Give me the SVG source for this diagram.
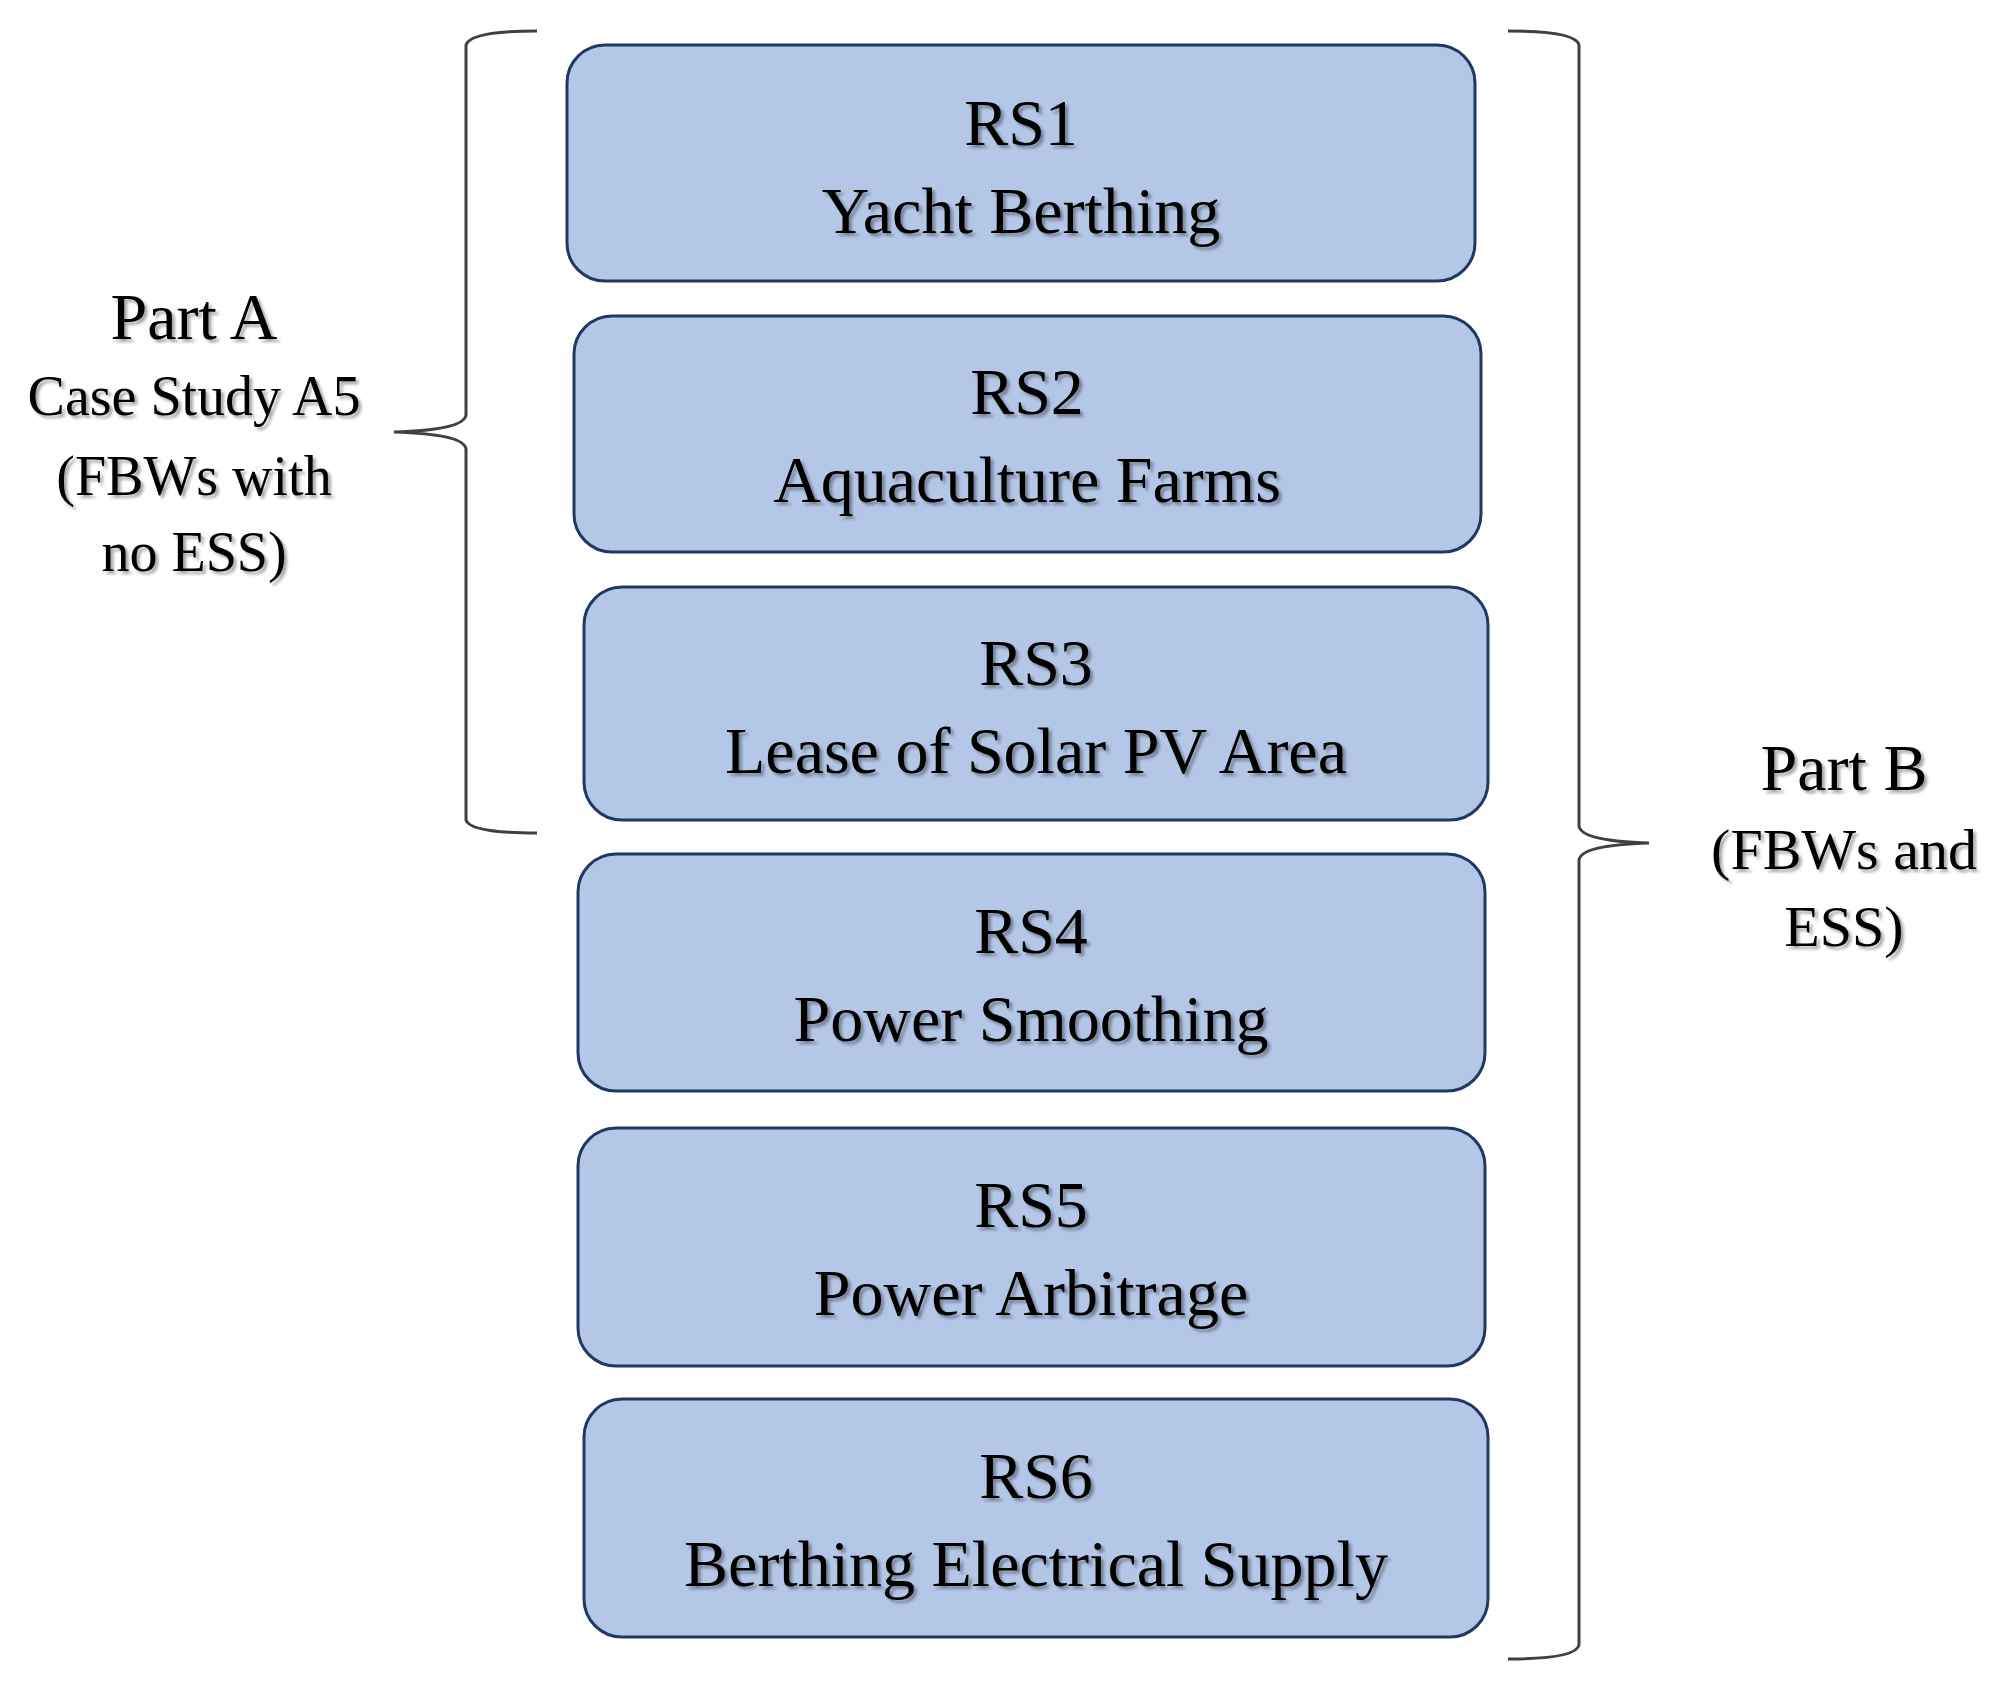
<svg xmlns="http://www.w3.org/2000/svg" width="2004" height="1684" viewBox="0 0 2004 1684">
<style>
.box{fill:#b4c7e7;stroke:#203864;stroke-width:3}
.t{font-family:"Liberation Serif","Times New Roman",serif;fill:#000;text-anchor:middle;filter:url(#sh)}
.br{fill:none;stroke:#404040;stroke-width:3}
</style>
<defs><filter id="sh" x="-10%" y="-20%" width="120%" height="140%"><feDropShadow dx="3" dy="3" stdDeviation="1.5" flood-color="#000" flood-opacity="0.35"/></filter></defs>
<rect width="2004" height="1684" fill="#fff"/>
<g id="rs1"><rect class="box" x="567" y="45" width="908" height="236" rx="38"/><text class="t" x="1021" y="145" font-size="66">RS1</text><text class="t" x="1021" y="233" font-size="66">Yacht Berthing</text></g>
<g id="rs2"><rect class="box" x="574" y="316" width="907" height="236" rx="38"/><text class="t" x="1027" y="414" font-size="66">RS2</text><text class="t" x="1027" y="502" font-size="66">Aquaculture Farms</text></g>
<g id="rs3"><rect class="box" x="584" y="587" width="904" height="233" rx="38"/><text class="t" x="1036" y="685" font-size="66">RS3</text><text class="t" x="1036" y="773" font-size="66">Lease of Solar PV Area</text></g>
<g id="rs4"><rect class="box" x="578" y="854" width="907" height="237" rx="38"/><text class="t" x="1031" y="953" font-size="66">RS4</text><text class="t" x="1031" y="1041" font-size="66">Power Smoothing</text></g>
<g id="rs5"><rect class="box" x="578" y="1128" width="907" height="238" rx="38"/><text class="t" x="1031" y="1227" font-size="66">RS5</text><text class="t" x="1031" y="1315" font-size="66">Power Arbitrage</text></g>
<g id="rs6"><rect class="box" x="584" y="1399" width="904" height="238" rx="38"/><text class="t" x="1036" y="1498" font-size="66">RS6</text><text class="t" x="1036" y="1586" font-size="66">Berthing Electrical Supply</text></g>
<g id="connectors">
<path class="br" d="M537 31 Q470 31 466 45 L466 415 Q464 430 394 432 Q464 434 466 449 L466 820 Q470 833 537 833"/>
<path class="br" d="M1508 31 Q1576 31 1579 45 L1579 826 Q1581 841 1649 843 Q1581 845 1579 860 L1579 1645 Q1576 1659 1508 1659"/>
</g>
<g id="partA"><text class="t" x="194" y="339" font-size="66">Part A</text><text class="t" x="194" y="415" font-size="56">Case Study A5</text><text class="t" x="194" y="495" font-size="56">(FBWs with</text><text class="t" x="194" y="571" font-size="56">no ESS)</text></g>
<g id="partB"><text class="t" x="1844" y="790" font-size="66">Part B</text><text class="t" x="1844" y="869" font-size="58">(FBWs and</text><text class="t" x="1844" y="946" font-size="58">ESS)</text></g>
</svg>
